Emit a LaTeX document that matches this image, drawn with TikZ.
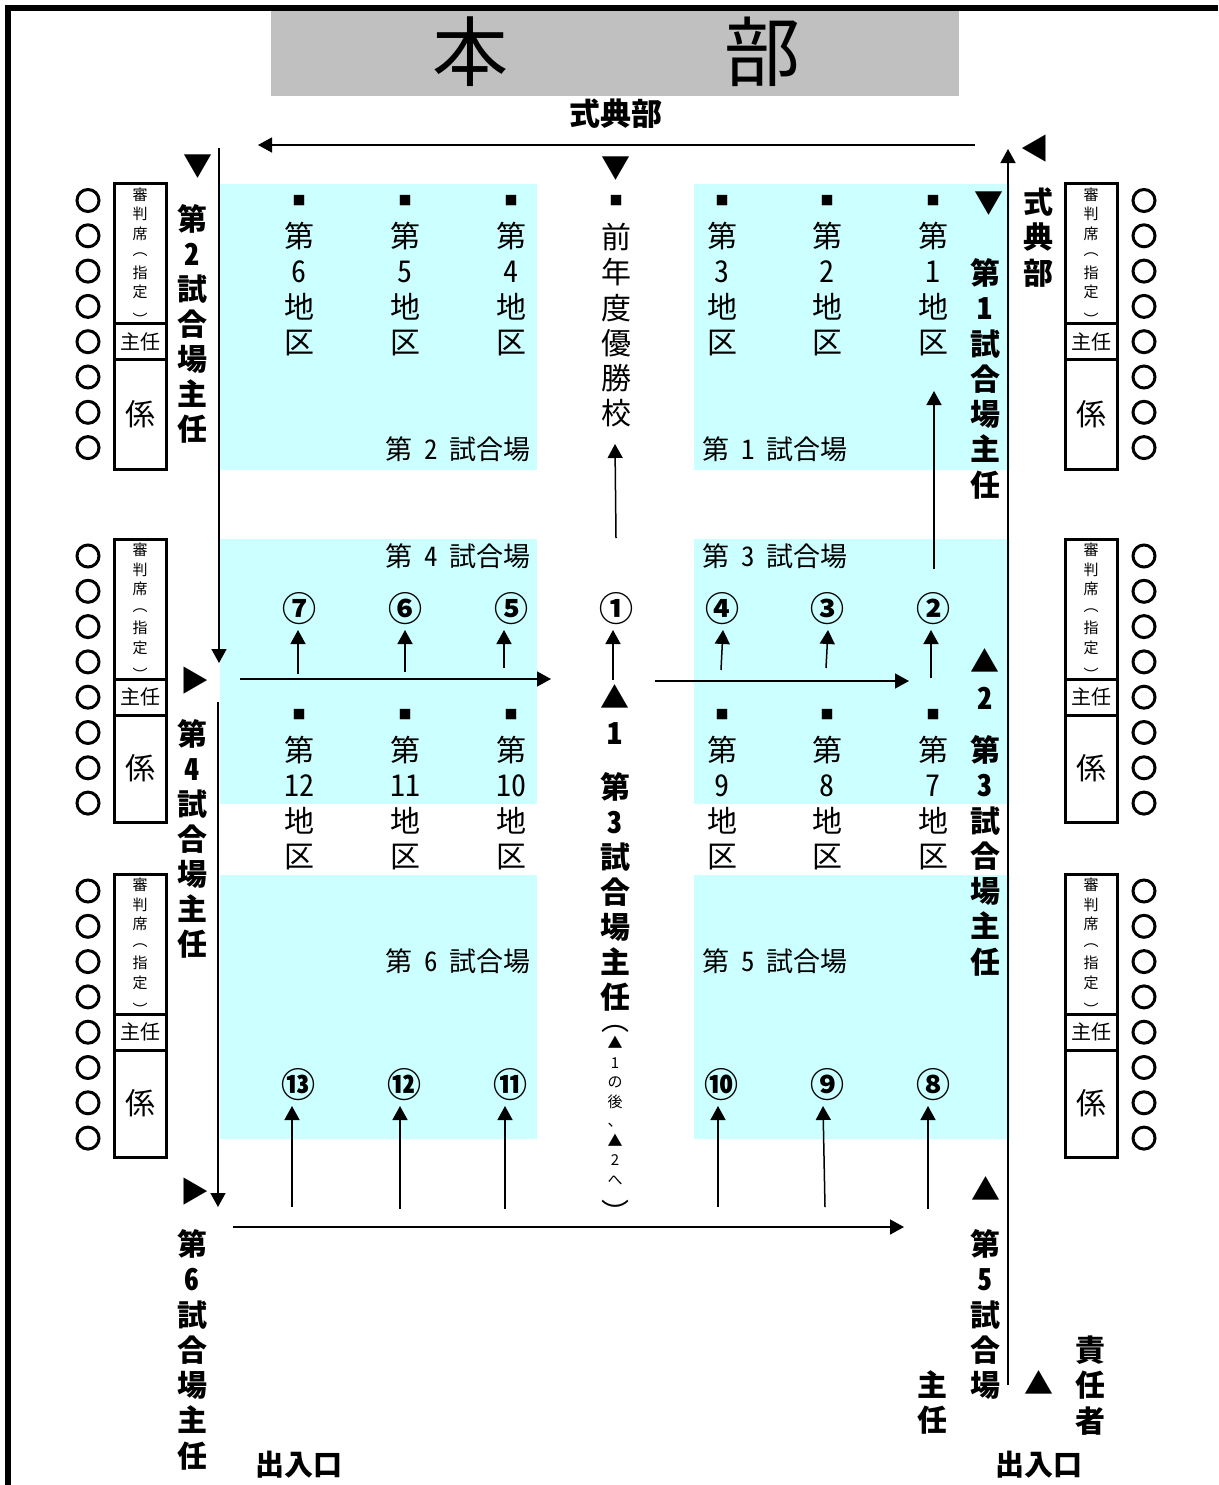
\documentclass[tikz,border=0pt]{standalone}
\usepackage{fontspec}
\usetikzlibrary{arrows.meta}
\newfontfamily\jp{Noto Sans CJK JP}
\newfontfamily\jpnum[CharacterWidth=Half]{Noto Sans CJK JP}
\newcommand{\dg}[1]{{\jpnum #1}}
\newcommand{\courtlabel}[1]{第\hspace{12pt}\dg{#1}\hspace{12pt}試合場}
\definecolor{court}{HTML}{CCFFFF}
\definecolor{stage}{HTML}{C0C0C0}
\tikzset{
  jptext/.style={inner sep=0pt, anchor=base, yshift={-.38*#1 pt}, font=\jp\fontsize{#1}{35.3}\selectfont},
  stacktext/.style={jptext=#1, text width=60pt, align=center},
  headtext/.style={stacktext=30, font=\jp\bfseries\fontsize{30}{#1}\selectfont},
  headtext/.default=35.3,
  smalltext/.style={stacktext=15, font=\jp\fontsize{15}{19.5}\selectfont},
  titletext/.style={jptext=#1, font=\jp\bfseries\fontsize{#1}{35.3}\selectfont},
  courtname/.style={jptext=27},
  marker/.style={jptext=29},
  dotmark/.style={jptext=13},
  numlabel/.style={jptext=34, font=\jp\bfseries\fontsize{34}{35.3}\selectfont},
  seat/.style={draw, circle, line width=3pt, minimum size=22pt, inner sep=0pt},
  deskbox/.style={draw, line width=3pt, minimum width=52pt, inner sep=0pt, outer sep=0pt},
  arrowline/.style={-{Triangle[length=14pt,width=15pt]}, line width=1.5pt},
}
\begin{document}
\begin{tikzpicture}[x=1pt,y=-1pt]
\useasboundingbox (0,0) rectangle (1218,1485);
\draw[line width=6pt] (8,1485) -- (8,8) -- (1218,8);
% stage
\node[fill=stage, minimum width=688pt, minimum height=85pt, inner sep=0pt] (stage) at (615,53.5) {};
\node[jptext=76] (hon) at (470,52) {本};
\node[jptext=76] (bu) at (762,52) {部};
\node[titletext=31] (shikiten) at (616,114) {式典部};
% courts
\fill[court] (220,184) rectangle (537,470);
\fill[court] (694,184) rectangle (1010,470);
\fill[court] (220,539) rectangle (537,804);
\fill[court] (694,539) rectangle (1010,804);
\fill[court] (220,875) rectangle (537,1139);
\fill[court] (694,875) rectangle (1010,1139);
\node[courtname] (court1) at (775,449) {\courtlabel{1}};
\node[courtname] (court2) at (458,449) {\courtlabel{2}};
\node[courtname] (court3) at (775,556) {\courtlabel{3}};
\node[courtname] (court4) at (458,556) {\courtlabel{4}};
\node[courtname] (court5) at (775,961) {\courtlabel{5}};
\node[courtname] (court6) at (458,961) {\courtlabel{6}};
% districts
\foreach \x/\n in {299/6,405/5,511/4,722/3,827/2,933/1} {
  \node[dotmark] (marka\n) at (\x,201) {■};
  \node[stacktext=30] (zone\n) at (\x,236) {第\\\dg{\n}\\地\\区};
}
\foreach \x/\n in {299/12,405/11,511/10,722/9,827/8,933/7} {
  \node[dotmark] (markb\n) at (\x,715) {■};
  \node[stacktext=30] (zone\n) at (\x,750) {第\\\dg{\n}\\地\\区};
}
\node[dotmark] (markc) at (616,201) {■};
\node[stacktext=30] (winner) at (616,237) {前\\年\\度\\優\\勝\\校};
% entry numbers
\node[numlabel] (num1) at (616,609) {①};
\foreach \x/\n/\s in {299/7/⑦,405/6/⑥,511/5/⑤,722/4/④,827/3/③,933/2/②}
  \node[numlabel] (num\n) at (\x,609) {\s};
\foreach \x/\n/\s in {298/13/⑬,404/12/⑫,510/11/⑪,721/10/⑩,827/9/⑨,933/8/⑧}
  \node[numlabel] (num\n) at (\x,1085) {\s};
% judges' desks
\foreach \side/\bx/\cx in {l/140/88,r/1091/1144} {
  \foreach \row/\top/\h in {a/183.5/110,b/539/107,c/874/107} {
    \node[deskbox, minimum height=140pt] (desk\side\row) at (\bx,\top+70) {};
    \node[deskbox, minimum height=36pt, font=\jp\fontsize{20}{24}\selectfont] (head\side\row) at (\bx,\top+158) {主任};
    \node[deskbox, minimum height=\h pt, font=\jp\fontsize{30}{36}\selectfont] (staff\side\row) at (\bx,\top+176+\h/2) {係};
    \node[smalltext] (judge\side\row) at (\bx,\top+11) {審\\判\\席\\[-3pt]︵\\[3pt]指\\定\\[8pt]︶};
    \foreach \i in {0,...,7}
      \node[seat] (seat\side\row\i) at (\cx,\top+17+\i*35.3) {};
  }
}
% heads of courts
\node[marker] (mark2) at (198,165) {▼};
\node[headtext=35] (head2) at (192,219) {第\\\dg{2}\\試\\合\\場\\主\\任};
\node[marker] (mark1) at (989,202) {▼};
\node[headtext] (head1) at (985,273) {第\\\dg{1}\\試\\合\\場\\主\\任};
\node[marker] (markp) at (616,167) {▼};
\node[marker] (markq) at (1035,148) {◀};
\node[headtext] (side) at (1038,202) {式\\典\\部};
\node[marker] (mark3) at (985,661) {▲};
\node[headtext] (two) at (985,698) {\dg{2}};
\node[headtext] (head3) at (985,750) {第\\\dg{3}\\試\\合\\場\\主\\任};
\node[marker] (mark4) at (195,680) {▶};
\node[headtext=35] (head4) at (192,734) {第\\\dg{4}\\試\\合\\場\\主\\任};
\node[marker] (markm) at (615,697) {▲};
\node[headtext] (one) at (615,733) {\dg{1}};
\node[headtext=35] (headm) at (615,787) {第\\\dg{3}\\試\\合\\場\\主\\任};
% note under the middle column
\node[jptext=28] (noteopen) at (615,1020) {︵};
\node[smalltext] (note) at (615,1043) {▲\\1\\の\\後\\、\\▲\\2\\へ};
\node[jptext=28] (noteclose) at (615,1213) {︶};
\node[marker] (mark6) at (195,1191) {▶};
\node[headtext] (head6) at (192,1244) {第\\\dg{6}\\試\\合\\場\\主\\任};
\node[marker] (mark5) at (986,1189) {▲};
\node[headtext] (head5) at (985,1244) {第\\\dg{5}\\試\\合\\場};
\node[headtext] (chief) at (932,1385) {主\\任};
\node[marker] (markr) at (1039,1383) {▲};
\node[headtext] (resp) at (1090,1350) {責\\任\\者};
\node[titletext=29] (gatel) at (299,1464) {出入口};
\node[titletext=29] (gater) at (1039,1464) {出入口};
% routes
\coordinate (ta) at (975,145); \coordinate (tb) at (258,145);
\coordinate (lb) at (219,148); \coordinate (lc) at (219,663);
\coordinate (ld) at (218,702); \coordinate (le) at (218,1207);
\coordinate (ra) at (1008,1385); \coordinate (rb) at (1008,149);
\coordinate (ha) at (240,679); \coordinate (hb) at (551,679);
\coordinate (hc) at (655,681); \coordinate (hd) at (909,681);
\coordinate (he) at (233,1227); \coordinate (hf) at (904,1227);
\coordinate (wa) at (616,538); \coordinate (wb) at (615,444);
\coordinate (za) at (934,569); \coordinate (zb) at (934,391);
\draw[arrowline] (ta) -- (tb);
\draw[arrowline] (lb) -- (lc);
\draw[arrowline] (ld) -- (le);
\draw[arrowline] (ra) -- (rb);
\draw[arrowline] (ha) -- (hb);
\draw[arrowline] (hc) -- (hd);
\draw[arrowline] (he) -- (hf);
\draw[arrowline] (wa) -- (wb);
\draw[arrowline] (za) -- (zb);
\foreach \n/\x/\y/\u in {7/298/674/298,6/405/672/405,5/504/668/504,1/613/680/613,4/721/670/723,3/826/668/828,2/931/678/931} {
  \coordinate (foot\n) at (\x,\y);
  \coordinate (tip\n) at (\u,630);
  \draw[arrowline] (foot\n) -- (tip\n);
}
\foreach \n/\x/\y/\u in {13/292/1207/292,12/400/1209/400,11/505/1209/505,10/718/1207/718,9/825/1207/823,8/928/1209/928} {
  \coordinate (foot\n) at (\x,\y);
  \coordinate (tip\n) at (\u,1106);
  \draw[arrowline] (foot\n) -- (tip\n);
}
\end{tikzpicture}
\end{document}
